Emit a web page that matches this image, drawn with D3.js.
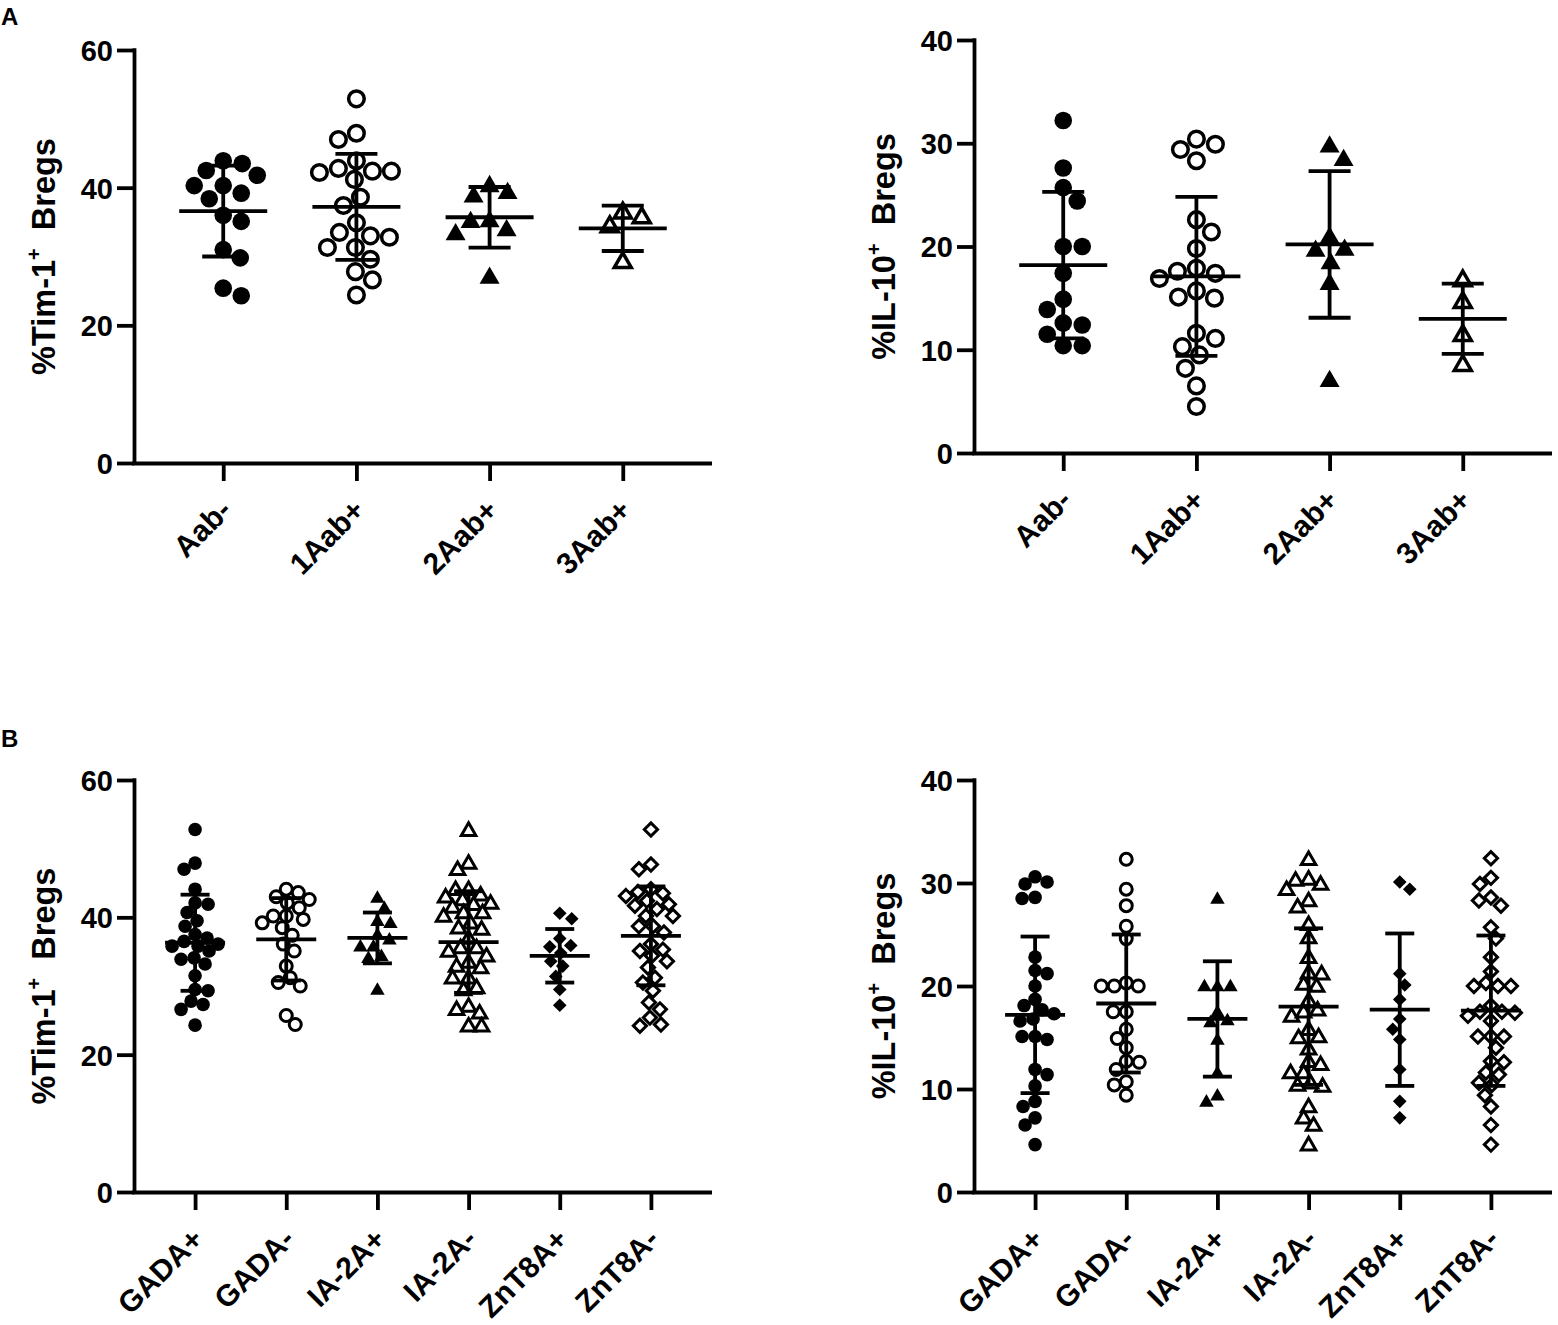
<!DOCTYPE html>
<html>
<head>
<meta charset="utf-8">
<script src="https://cdn.jsdelivr.net/npm/d3@7/dist/d3.min.js"></script>
<style>
  html, body { margin: 0; padding: 0; background: #fff; }
  svg { display: block; }
  text { font-family: "Liberation Sans", Arial, Helvetica, sans-serif; font-weight: bold; fill: #000; }
</style>
</head>
<body>
<svg id="chart" width="1558" height="1325"></svg>
<script>
// ---------------- DATA ----------------
const catsA = ["Aab-", "1Aab+", "2Aab+", "3Aab+"];
const catsB = ["GADA+", "GADA-", "IA-2A+", "IA-2A-", "ZnT8A+", "ZnT8A-"];

const tim1Ticks = [0, 20, 40, 60];
const il10Ticks = [0, 10, 20, 30, 40];

// Panel A, %Tim-1+ Bregs
const tim1A_AabNeg = [42.5, 43.9, 43.5, 41.8, 40.3, 40.3, 39.2, 38.4, 36.0, 35.1, 31.0, 29.8, 25.4, 24.3];
const tim1A_1Aab = [52.9, 47.9, 47.0, 43.9, 42.8, 42.4, 42.2, 42.4, 41.2, 38.6, 37.4, 34.9, 33.5, 32.8, 33.0, 31.3, 31.3, 29.6, 27.8, 26.6, 24.4];
const tim1A_2Aab = [40.4, 38.9, 39.4, 35.3, 35.2, 34.0, 33.4, 27.1];
const tim1A_3Aab = [36.5, 35.8, 34.5, 29.3];
const tim1A_mean = [36.6, 37.2, 35.7, 34.1];
const tim1A_sd = [6.6, 7.7, 4.4, 3.3];

// Panel A, %IL-10+ Bregs
const il10A_AabNeg = [32.2, 27.6, 25.7, 24.4, 20.0, 20.0, 17.4, 14.9, 13.9, 12.6, 12.4, 11.5, 10.4, 10.4];
const il10A_1Aab = [28.3, 29.9, 30.4, 29.4, 22.6, 21.4, 19.8, 17.4, 17.9, 17.6, 16.9, 15.7, 15.0, 15.1, 11.1, 11.6, 10.3, 9.5, 8.2, 6.5, 4.5];
const il10A_2Aab = [29.8, 28.5, 21.0, 19.8, 19.7, 18.5, 16.5, 7.1];
const il10A_3Aab = [16.8, 14.7, 11.5, 8.6];
const il10A_mean = [18.2, 17.1, 20.2, 13.0];
const il10A_sd = [7.1, 7.7, 7.1, 3.4];

// Panel B, %Tim-1+ Bregs
const tim1B_GADApos = [52.8, 47.9, 47.0, 44.1, 41.9, 42.1, 40.7, 39.5, 38.7, 37.5, 37.0, 36.5, 36.1, 35.8, 35.8, 35.1, 34.1, 33.9, 33.2, 31.5, 29.3, 29.5, 27.8, 27.3, 26.6, 24.3];
const tim1B_GADAneg = [42.1, 43.0, 44.1, 43.6, 42.6, 41.4, 40.2, 40.2, 39.2, 39.7, 38.5, 37.4, 36.1, 35.1, 32.9, 31.2, 30.5, 30.0, 25.7, 24.4];
const tim1B_IA2Apos = [42.9, 41.4, 39.5, 39.2, 37.5, 36.8, 35.8, 35.8, 34.4, 34.1, 29.5];
const tim1B_IA2Aneg = [52.7, 47.9, 47.0, 44.1, 44.1, 43.3, 43.0, 42.6, 42.1, 41.9, 41.5, 40.7, 40.7, 40.2, 39.2, 38.5, 38.3, 37.0, 35.6, 35.6, 35.1, 34.4, 33.5, 32.7, 32.9, 31.2, 31.2, 29.8, 29.5, 27.1, 26.6, 26.1, 24.2, 24.2];
const tim1B_ZnT8Apos = [40.6, 39.8, 36.9, 35.9, 35.7, 34.8, 33.6, 32.9, 31.4, 29.5, 27.2];
const tim1B_ZnT8Aneg = [52.8, 47.7, 47.0, 43.5, 43.7, 44.1, 43.1, 41.9, 42.4, 41.7, 41.2, 40.2, 40.2, 38.7, 38.7, 37.8, 36.1, 35.3, 35.1, 34.4, 33.6, 32.7, 31.2, 30.5, 29.3, 27.6, 26.6, 25.4, 24.2, 24.4];
const tim1B_mean = [36.3, 36.8, 37.0, 36.4, 34.4, 37.3];
const tim1B_sd = [7.0, 6.0, 3.7, 7.4, 3.9, 7.2];

// Panel B, %IL-10+ Bregs
const il10B_GADApos = [29.9, 30.6, 30.1, 28.6, 28.5, 22.8, 21.2, 21.5, 20.0, 18.7, 18.1, 17.7, 17.3, 16.8, 16.6, 15.1, 14.8, 15.1, 11.9, 11.4, 10.3, 8.8, 8.3, 7.2, 6.5, 4.6];
const il10B_GADAneg = [32.3, 29.4, 27.8, 25.8, 24.6, 20.0, 20.0, 20.3, 20.0, 17.5, 17.5, 15.8, 14.9, 14.0, 12.7, 12.6, 11.9, 10.7, 10.4, 9.4];
const il10B_IA2Apos = [28.5, 20.0, 20.0, 20.0, 16.7, 16.5, 17.5, 14.8, 11.6, 9.4, 8.8];
const il10B_IA2Aneg = [32.3, 29.9, 30.3, 30.4, 29.4, 28.3, 27.7, 26.0, 24.7, 22.8, 21.2, 21.3, 20.0, 20.2, 18.6, 17.1, 17.7, 17.5, 15.8, 15.1, 15.0, 13.9, 12.7, 12.4, 11.6, 11.6, 10.3, 10.6, 10.4, 8.3, 7.2, 6.5, 4.6];
const il10B_ZnT8Apos = [29.4, 30.1, 21.2, 20.1, 18.7, 16.8, 15.8, 14.8, 11.9, 8.8, 7.2];
const il10B_ZnT8Aneg = [32.4, 30.5, 29.9, 28.6, 28.3, 27.8, 25.7, 24.6, 22.8, 21.4, 20.0, 20.0, 20.3, 20.0, 17.1, 16.6, 17.5, 17.5, 18.1, 17.4, 15.1, 15.1, 15.1, 14.0, 12.7, 12.6, 11.6, 11.4, 10.4, 9.4, 10.6, 8.3, 6.5, 4.6];
const il10B_mean = [17.2, 18.3, 16.8, 18.0, 17.7, 17.6];
const il10B_sd = [7.6, 6.7, 5.6, 7.6, 7.4, 7.3];

const shapesA = ["circle-filled", "circle-open", "triangle-filled", "triangle-open"];
const shapesB = ["circle-filled", "circle-open", "triangle-filled", "triangle-open", "diamond-filled", "diamond-open"];

// ---------------- LAYOUT ----------------
const svg = d3.select("#chart");
const STYLE_A = { cr: 8.8, ocr: 7.8, ts: 20, ots: 17, da: 7, oda: 6, sw: 3.5, dmin: 19, maxOff: 42, meanW: 88, capW: 42 };
const STYLE_B = { cr: 6.8, ocr: 6.0, ts: 14.5, ots: 14.5, da: 6.8, oda: 6.6, sw: 3.0, dmin: 12.5, maxOff: 25, meanW: 60, capW: 29 };

const panels = [
  { x0: 134, x1: 712, yTop: 50, yBot: 463, max: 60, ticks: tim1Ticks, cats: catsA, groups: [tim1A_AabNeg, tim1A_1Aab, tim1A_2Aab, tim1A_3Aab], mean: tim1A_mean, sd: tim1A_sd, shapes: shapesA, title: "%Tim-1", st: STYLE_A },
  { x0: 974, x1: 1552, yTop: 40, yBot: 453, max: 40, ticks: il10Ticks, cats: catsA, groups: [il10A_AabNeg, il10A_1Aab, il10A_2Aab, il10A_3Aab], mean: il10A_mean, sd: il10A_sd, shapes: shapesA, title: "%IL-10", st: STYLE_A },
  { x0: 134, x1: 712, yTop: 780, yBot: 1192, max: 60, ticks: tim1Ticks, cats: catsB, groups: [tim1B_GADApos, tim1B_GADAneg, tim1B_IA2Apos, tim1B_IA2Aneg, tim1B_ZnT8Apos, tim1B_ZnT8Aneg], mean: tim1B_mean, sd: tim1B_sd, shapes: shapesB, title: "%Tim-1", st: STYLE_B },
  { x0: 974, x1: 1552, yTop: 780, yBot: 1192, max: 40, ticks: il10Ticks, cats: catsB, groups: [il10B_GADApos, il10B_GADAneg, il10B_IA2Apos, il10B_IA2Aneg, il10B_ZnT8Apos, il10B_ZnT8Aneg], mean: il10B_mean, sd: il10B_sd, shapes: shapesB, title: "%IL-10", st: STYLE_B }
];

function triPath(s) {
  const h = s * Math.sqrt(3) / 2;
  const p = d3.path();
  p.moveTo(0, -h * 0.58); p.lineTo(s / 2, h * 0.42); p.lineTo(-s / 2, h * 0.42); p.closePath();
  return p.toString();
}
function diaPath(a) {
  const p = d3.path();
  p.moveTo(0, -a); p.lineTo(a, 0); p.lineTo(0, a); p.lineTo(-a, 0); p.closePath();
  return p.toString();
}

// deterministic beeswarm: horizontal offsets derived from the values only
function swarm(vals, yScale, dmin, maxOff) {
  const order = vals.map((v, i) => i).sort((a, b) => vals[b] - vals[a]);
  const placed = [];
  const res = new Array(vals.length);
  let side = 1;
  for (const i of order) {
    const py = yScale(vals[i]);
    let best = 0, bestCost = Infinity;
    for (let k = 0; k <= maxOff * 2; k++) {
      const off = (k % 2 === 0 ? 1 : -1) * Math.ceil(k / 2) * side;
      let cost = Math.abs(off) * 0.03;
      for (const p of placed) {
        const dist = Math.hypot(off - p.x, py - p.y);
        if (dist < dmin) cost += (dmin - dist) * (dmin - dist);
      }
      if (cost < bestCost - 1e-9) { bestCost = cost; best = off; }
    }
    placed.push({ x: best, y: py });
    res[i] = best;
    side = -side;
  }
  return res;
}

panels.forEach(P => {
  const st = P.st;
  const x = d3.scalePoint().domain(P.cats).range([P.x0, P.x1]).padding(0.67);
  const y = d3.scaleLinear().domain([0, P.max]).range([P.yBot, P.yTop]);
  const g = svg.append("g");

  // y axis
  const ya = g.append("g").attr("transform", `translate(${P.x0},0)`)
    .call(d3.axisLeft(y).tickValues(P.ticks).tickSize(17).tickSizeOuter(0).tickPadding(4).tickFormat(d3.format("d")));
  ya.select(".domain").attr("stroke", "#000").attr("stroke-width", 3.8).attr("d", `M0.5,${P.yBot}V${P.yTop - 1.8}`);
  ya.selectAll(".tick line").attr("stroke", "#000").attr("stroke-width", 3.8);
  ya.selectAll(".tick text").style("font-size", "29px").style("font-weight", "bold").attr("dy", "0.36em");

  // x axis
  const xa = g.append("g").attr("transform", `translate(0,${P.yBot})`)
    .call(d3.axisBottom(x).tickSize(18).tickSizeOuter(0).tickFormat(""));
  xa.select(".domain").attr("stroke", "#000").attr("stroke-width", 3.8).attr("d", `M${P.x0 - 1.8},0.5H${P.x1}`);
  xa.selectAll(".tick line").attr("stroke", "#000").attr("stroke-width", 3.8);

  g.selectAll("text.xlab").data(P.cats).join("text")
    .attr("class", "xlab")
    .attr("transform", d => `translate(${x(d) + 10},${P.yBot + 49}) rotate(-45)`)
    .attr("text-anchor", "end")
    .style("font-size", "30px")
    .text(d => d);

  // y title
  const t = g.append("text")
    .attr("transform", `translate(${P.x0 - 79},${(P.yTop + P.yBot) / 2}) rotate(-90)`)
    .attr("text-anchor", "middle")
    .style("font-size", "32.5px");
  t.append("tspan").text(P.title);
  t.append("tspan").attr("dy", -14).style("font-size", "20px").text("+");
  t.append("tspan").attr("dy", 14).text("\u00a0 Bregs");

  // points
  P.groups.forEach((vals, gi) => {
    const cx = x(P.cats[gi]);
    const offs = swarm(vals, y, st.dmin, st.maxOff);
    const shape = P.shapes[gi];
    const filled = shape.endsWith("filled");
    const gg = g.append("g");
    vals.forEach((v, i) => {
      const px = cx + offs[i], py = y(v);
      let el;
      if (shape.startsWith("circle")) {
        el = gg.append("circle").attr("cx", px).attr("cy", py).attr("r", filled ? st.cr : st.ocr);
      } else if (shape.startsWith("triangle")) {
        el = gg.append("path").attr("d", triPath(filled ? st.ts : st.ots)).attr("transform", `translate(${px},${py})`);
      } else {
        el = gg.append("path").attr("d", diaPath(filled ? st.da : st.oda)).attr("transform", `translate(${px},${py})`);
      }
      if (filled) el.attr("fill", "#000");
      else el.attr("fill", "#fff").attr("stroke", "#000").attr("stroke-width", st.sw);
    });
  });

  // mean ± SD bars
  const bars = g.append("g").attr("stroke", "#000").attr("stroke-width", 3.8).attr("fill", "none");
  P.cats.forEach((c, gi) => {
    const cx = x(c), m = P.mean[gi], s = P.sd[gi];
    bars.append("line").attr("x1", cx).attr("x2", cx).attr("y1", y(m + s)).attr("y2", y(m - s));
    bars.append("line").attr("x1", cx - st.meanW / 2).attr("x2", cx + st.meanW / 2).attr("y1", y(m)).attr("y2", y(m));
    bars.append("line").attr("x1", cx - st.capW / 2).attr("x2", cx + st.capW / 2).attr("y1", y(m + s)).attr("y2", y(m + s));
    bars.append("line").attr("x1", cx - st.capW / 2).attr("x2", cx + st.capW / 2).attr("y1", y(m - s)).attr("y2", y(m - s));
  });
});

// panel letters
svg.append("text").attr("x", 1).attr("y", 25).style("font-size", "24px").text("A");
svg.append("text").attr("x", 1).attr("y", 747).style("font-size", "24px").text("B");
</script>
</body>
</html>
